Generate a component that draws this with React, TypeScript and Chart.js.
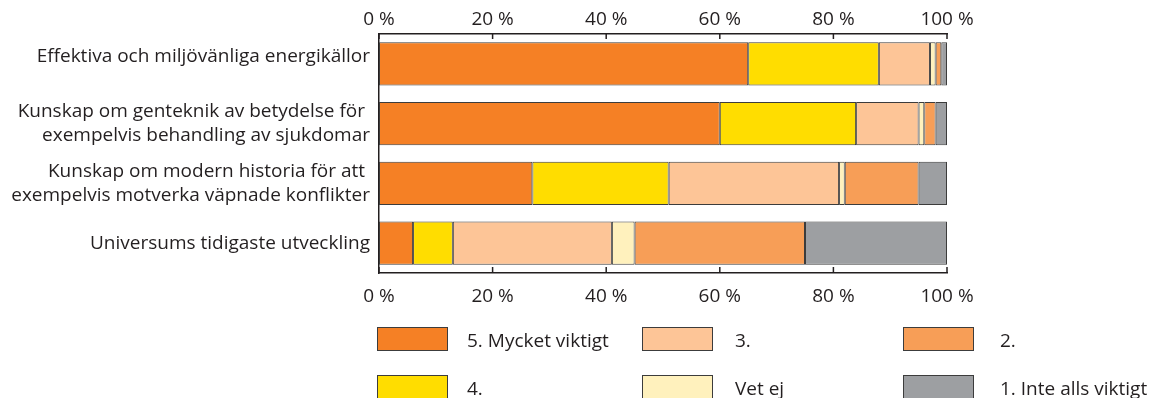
import { useEffect, useRef } from 'react';
import { Chart, registerables } from 'chart.js';

Chart.register(...registerables);

const categories: (string | string[])[] = [
  ['Effektiva och miljövänliga energikällor', ''],
  ['Kunskap om genteknik av betydelse för ', 'exempelvis behandling av sjukdomar'],
  ['Kunskap om modern historia för att ', 'exempelvis motverka väpnade konflikter'],
  'Universums tidigaste utveckling',
];

const seriesLabels = ['5. Mycket viktigt', '4.', '3.', 'Vet ej', '2.', '1. Inte alls viktigt'];
const seriesColors = ['#F58025', '#FFDD00', '#FDC597', '#FFF1BD', '#F79E57', '#9D9FA2'];

const mycketViktigt = [65, 60, 27, 6];
const fyra = [23, 24, 24, 7];
const tre = [9, 11, 30, 28];
const vetEj = [1, 1, 1, 4];
const tva = [1, 2, 13, 30];
const inteAllsViktigt = [1, 2, 5, 25];

const seriesValues = [mycketViktigt, fyra, tre, vetEj, tva, inteAllsViktigt];

const xTicks = [0, 20, 40, 60, 80, 100];

// legend in column-major order: [col][row] -> series index
const legendColumns = [
  [0, 1],
  [2, 3],
  [4, 5],
];

const AXIS = '#231F20';
const FONT = '"Open Sans"';
const FS = 19;

export default function App() {
  const ref = useRef<HTMLCanvasElement | null>(null);

  useEffect(() => {
    if (!ref.current) return;

    const customDraw = {
      id: 'customDraw',
      afterDraw(chart: any) {
        const ctx = chart.ctx as CanvasRenderingContext2D;
        const { top, bottom } = chart.chartArea;
        ctx.save();
        ctx.strokeStyle = AXIS;
        ctx.lineWidth = 1.5;
        for (const v of xTicks) {
          const p1 = chart.scales.x.getPixelForValue(v);
          ctx.beginPath();
          ctx.moveTo(p1, top);
          ctx.lineTo(p1, top + 5);
          ctx.stroke();
          const p2 = chart.scales.x2.getPixelForValue(v);
          ctx.beginPath();
          ctx.moveTo(p2, bottom);
          ctx.lineTo(p2, bottom - 6);
          ctx.stroke();
        }
        // legend
        const colBoxX = [369, 634, 895];
        const colTextX = [459, 727, 992];
        const rowBoxY = [319, 367];
        const boxW = 70;
        const boxH = 23;
        ctx.font = `${FS}px ${FONT}`;
        ctx.textBaseline = 'middle';
        ctx.textAlign = 'left';
        legendColumns.forEach((col, ci) => {
          col.forEach((si, ri) => {
            const x = colBoxX[ci];
            const y = rowBoxY[ri];
            ctx.fillStyle = seriesColors[si];
            ctx.fillRect(x, y, boxW, boxH);
            ctx.lineWidth = 1;
            ctx.strokeStyle = '#3C3C3C';
            ctx.strokeRect(x + 0.5, y + 0.5, boxW, boxH);
            ctx.fillStyle = AXIS;
            ctx.fillText(seriesLabels[si], colTextX[ci], y + boxH / 2 + 3);
          });
        });
        ctx.restore();
      },
    };

    const chart = new Chart(ref.current, {
      type: 'bar',
      data: {
        labels: categories,
        datasets: seriesValues.map((vals, i) => ({
          label: seriesLabels[i],
          data: vals,
          backgroundColor: seriesColors[i],
          borderColor: '#3C3C3C',
          borderWidth: 1,
          borderSkipped: false,
          xAxisID: 'x',
          barPercentage: 0.72,
          categoryPercentage: 1,
        })),
      },
      options: {
        indexAxis: 'y',
        animation: false,
        responsive: true,
        maintainAspectRatio: false,
        layout: { padding: { left: 0, right: 203, top: 0, bottom: 0 } },
        plugins: {
          legend: { display: false },
          tooltip: { enabled: false },
        },
        scales: {
          x: {
            type: 'linear',
            position: 'top',
            stacked: true,
            min: 0,
            max: 100,
            afterBuildTicks: (s: any) => {
              s.ticks = xTicks.map((v) => ({ value: v }));
            },
            afterFit: (s: any) => {
              s.height = 26;
            },
            grid: { display: false, drawTicks: false },
            border: { display: true, color: AXIS, width: 1.5 },
            ticks: {
              padding: 3,
              color: AXIS,
              font: { family: FONT, size: FS },
              callback: (v: any) => `${v} %`,
            },
          },
          x2: {
            type: 'linear',
            position: 'bottom',
            min: 0,
            max: 100,
            afterBuildTicks: (s: any) => {
              s.ticks = xTicks.map((v) => ({ value: v }));
            },
            afterFit: (s: any) => {
              s.height = 125;
            },
            grid: { display: false, drawTicks: false },
            border: { display: true, color: AXIS, width: 1.5 },
            ticks: {
              padding: 12,
              color: AXIS,
              font: { family: FONT, size: FS },
              callback: (v: any) => `${v} %`,
            },
          },
          y: {
            stacked: true,
            afterFit: (s: any) => {
              s.width = 371;
            },
            grid: { display: false, drawTicks: false },
            border: { display: true, color: AXIS, width: 1.5 },
            ticks: {
              padding: 9,
              color: AXIS,
              font: (c: any) => ({
                family: FONT,
                size: FS,
                lineHeight: c.index === 0 ? 14 / FS : 24 / FS,
              }),
            },
          },
        },
      },
      plugins: [customDraw],
    });

    return () => chart.destroy();
  }, []);

  return (
    <div style={{ width: 1142, height: 390, position: 'relative' }}>
      <canvas ref={ref} />
    </div>
  );
}
